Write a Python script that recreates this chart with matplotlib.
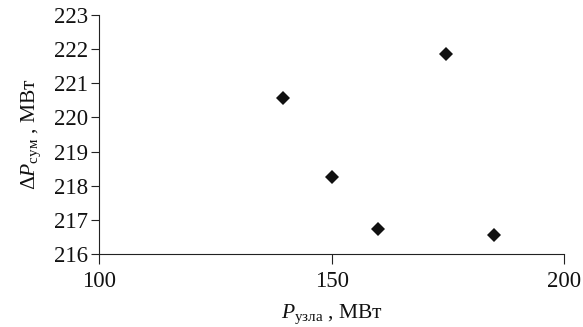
import matplotlib
matplotlib.use("Agg")
import matplotlib.pyplot as plt

plt.rcParams['font.family'] = ['Liberation Serif', 'DejaVu Serif']
plt.rcParams['mathtext.fontset'] = 'custom'
plt.rcParams['mathtext.rm'] = 'Liberation Serif'
plt.rcParams['mathtext.it'] = 'Liberation Serif:italic'
plt.rcParams['mathtext.bf'] = 'Liberation Serif:bold'

# Node load vs. total losses
p_node = [139.5, 150, 160, 174.5, 185]
dp_sum = [220.56, 218.25, 216.73, 221.86, 216.56]
x_ticks = [100, 150, 200]
y_ticks = [216, 217, 218, 219, 220, 221, 222, 223]

fig = plt.figure(figsize=(5.83, 3.27), dpi=100)
ax = fig.add_axes([0.1705, 0.2232, 0.797, 0.731])

ax.plot(p_node, dp_sum, linestyle='none', marker='D', markersize=7.5,
        color='#111111', markeredgewidth=0)

ax.set_xlim(100, 200)
ax.set_ylim(216, 223)
ax.set_xticks(x_ticks)
ax.set_yticks(y_ticks)

for s in ['top', 'right']:
    ax.spines[s].set_visible(False)
for s in ['left', 'bottom']:
    ax.spines[s].set_linewidth(0.8)
    ax.spines[s].set_color('#222222')

ax.tick_params(axis='both', direction='out', labelsize=16.5, width=0.8,
               color='#222222', labelcolor='#111111')
ax.tick_params(axis='x', length=7, pad=5)
ax.tick_params(axis='y', length=5.5, pad=2.5)

ax.set_xlabel(r'$P_{\mathrm{узла}}$ , МВт', fontsize=15.5, color='#111111', labelpad=8)
ax.set_ylabel(r'$\Delta P_{\mathrm{сум}}$ , МВт', fontsize=15.5, color='#111111', labelpad=8)

fig.savefig('out.png', dpi=100)
